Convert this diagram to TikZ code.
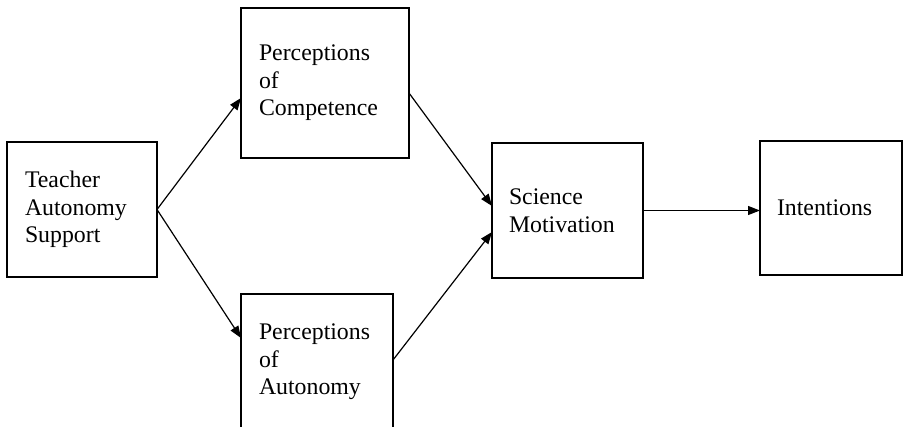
\documentclass[tikz,border=0pt]{standalone}
\usepackage{fontspec}
\setmainfont{Liberation Serif}
\usetikzlibrary{arrows.meta}
\begin{document}
\begin{tikzpicture}[x=1pt,y=-1pt,
  box/.style={draw, line width=1.4pt, outer sep=0pt, inner ysep=0pt, align=left,
    font=\fontsize{23.8}{27.5}\selectfont, anchor=center},
  conn/.style={line width=1.2pt, -{Triangle[length=12pt,width=9pt]}}]
\useasboundingbox (0,0) rectangle (904,426);
\clip (0,0) rectangle (904,426);
\node[box, inner xsep=18pt, text width=114pt, minimum height=135pt] (teacher) at (82,209.5) {Teacher\\Autonomy\\Support};
\node[box, inner xsep=18pt, text width=132pt, minimum height=150pt] (comp) at (325,83) {Perceptions\\of\\Competence};
\node[box, inner xsep=18pt, text width=116pt, minimum height=136pt] (auton) at (317,362) {Perceptions\\of\\Autonomy};
\node[box, inner xsep=17pt, text width=117pt, minimum height=135pt] (sci) at (567.5,210.5) {Science\\Motivation};
\node[box, inner xsep=17pt, text width=108pt, minimum height=134pt] (intent) at (831,208) {Intentions};
\draw[conn] (teacher.east) -- ([yshift=-15pt]comp.west);
\draw[conn] (teacher.east) -- ([yshift=24pt]auton.west);
\draw[conn] ([yshift=-10pt]comp.east) -- ([yshift=4.5pt]sci.west);
\draw[conn] ([yshift=2pt]auton.east) -- ([yshift=-21.5pt]sci.west);
\draw[conn] (sci.east) -- (sci.east -| intent.west);
\end{tikzpicture}
\end{document}
